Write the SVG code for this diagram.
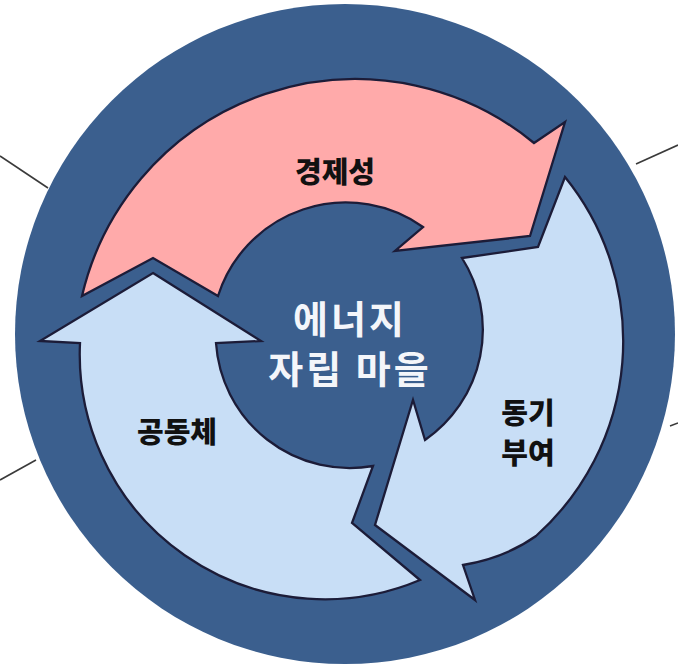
<svg xmlns="http://www.w3.org/2000/svg" width="678" height="667" viewBox="0 0 678 667">
<style>
.lead{stroke:#3a3a3a;stroke-width:1.6;fill:none}
.arrow{stroke:#1c1c38;stroke-width:2.3;stroke-linejoin:miter}
.pink{fill:#ffaaaa}
.blue{fill:#c8def6}
.lbl{font-family:"Noto Sans CJK KR","Noto Sans",sans-serif;font-weight:900;font-size:29px;fill:#111;text-anchor:middle}
.ctr{font-family:"Noto Sans CJK KR","Noto Sans",sans-serif;font-weight:bold;font-size:38px;fill:#f4f6fa;text-anchor:middle;letter-spacing:3px}
</style>
<rect width="678" height="667" fill="#ffffff"/>
<g id="connectors">
<line class="lead" x1="0" y1="156" x2="48" y2="188"/>
<line class="lead" x1="0" y1="480" x2="36" y2="460"/>
<line class="lead" x1="636" y1="164" x2="678" y2="145"/>
<line class="lead" x1="670" y1="426" x2="678" y2="423"/>
</g>
<g id="ring">
<circle cx="345" cy="334" r="330" fill="#3b5f8e"/>
</g>
<g id="economy">
<path class="arrow pink" d="M82,296 A281,281 0 0 1 534,143 L565,122 L530,236 L395,251 L423,227 A134,134 0 0 0 218,296 L153,258 Z"/>
<text class="lbl" x="335" y="183">경제성</text>
</g>
<g id="motivation">
<path class="arrow blue" d="M565,177 A261,261 0 0 1 536,536 Q505,558 463,565 L475,600 L375,525 L413,400 L425,440 A134,134 0 0 0 462,258 L538,247 Z"/>
<text class="lbl" x="528" y="424">동기</text>
<text class="lbl" x="528" y="464">부여</text>
</g>
<g id="community">
<path class="arrow blue" d="M153,273 L261,341 L216,343 A134,134 0 0 0 373,466 L352,523 L420,580 A245,245 0 0 1 80,343 L40,341 Z"/>
<text class="lbl" x="177" y="443">공동체</text>
</g>
<g id="center">
<text class="ctr" x="350" y="333">에너지</text>
<text class="ctr" x="350" y="383">자립 마을</text>
</g>
</svg>
